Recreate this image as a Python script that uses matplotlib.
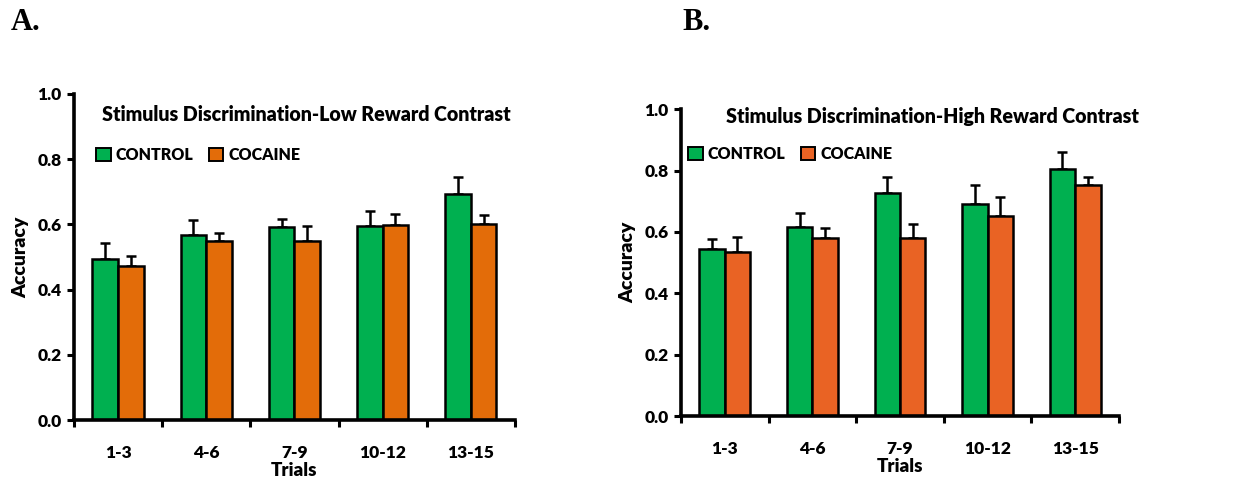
import matplotlib
matplotlib.use('Agg')
import matplotlib.pyplot as plt
import numpy as np

# Data
trials = ['1-3', '4-6', '7-9', '10-12', '13-15']

low_control = [0.495, 0.566, 0.592, 0.595, 0.694]
low_control_err = [0.048, 0.046, 0.025, 0.047, 0.051]
low_cocaine = [0.471, 0.550, 0.550, 0.599, 0.602]
low_cocaine_err = [0.031, 0.024, 0.045, 0.034, 0.027]

high_control = [0.546, 0.617, 0.726, 0.691, 0.805]
high_control_err = [0.032, 0.044, 0.054, 0.062, 0.055]
high_cocaine = [0.536, 0.580, 0.580, 0.652, 0.752]
high_cocaine_err = [0.047, 0.034, 0.046, 0.061, 0.027]

GREEN = '#00B050'
ORANGE_A = '#E36C09'
ORANGE_B = '#E96324'

plt.rcParams['font.family'] = ['Lato', 'DejaVu Sans']
plt.rcParams['font.weight'] = 'heavy'
plt.rcParams['axes.labelweight'] = 'heavy'

fig = plt.figure(figsize=(12.49, 4.83), dpi=100)


def draw_panel(rect, control, control_err, cocaine, cocaine_err, orange, title, title_xy, legend_xy):
    ax = fig.add_axes(rect)
    x = np.arange(len(trials))
    w = 0.29
    ax.bar(x - w / 2, control, w, color=GREEN, edgecolor='black', linewidth=1.8, zorder=2)
    ax.bar(x + w / 2, cocaine, w, color=orange, edgecolor='black', linewidth=1.8, zorder=2)
    ax.errorbar(x - w / 2, control, yerr=[np.zeros(len(x)), control_err], fmt='none',
                ecolor='black', elinewidth=1.8, capsize=3.5, capthick=1.8, zorder=1)
    ax.errorbar(x + w / 2, cocaine, yerr=[np.zeros(len(x)), cocaine_err], fmt='none',
                ecolor='black', elinewidth=1.8, capsize=3.5, capthick=1.8, zorder=1)

    ax.set_xlim(-0.5, len(trials) - 0.5)
    ax.set_ylim(0, 1.0)
    ax.set_yticks(np.arange(0, 1.01, 0.2))
    ax.set_yticklabels([f'{v:.1f}' for v in np.arange(0, 1.01, 0.2)], fontsize=12.5)
    ax.set_xticks(x)
    ax.set_xticklabels(trials, fontsize=12.5)
    ax.set_xticks(np.arange(-0.5, len(trials), 1.0), minor=True)
    ax.tick_params(axis='x', which='major', length=0, pad=18)
    ax.tick_params(axis='x', which='minor', length=5, width=2.2, direction='out')
    ax.tick_params(axis='y', length=5, width=2.2, direction='out', pad=4)

    for s in ['top', 'right']:
        ax.spines[s].set_visible(False)
    for s in ['left', 'bottom']:
        ax.spines[s].set_linewidth(2.6)

    ax.set_ylabel('Accuracy', fontsize=14, labelpad=6)
    ax.set_xlabel('Trials', fontsize=13.5, labelpad=1)

    fig.text(title_xy[0], title_xy[1], title, fontsize=14.1, fontweight='heavy',
             ha='left', va='center')

    h1 = plt.Rectangle((0, 0), 1, 1, facecolor=GREEN, edgecolor='black', linewidth=1.4)
    h2 = plt.Rectangle((0, 0), 1, 1, facecolor=orange, edgecolor='black', linewidth=1.4)
    ax.legend([h1, h2], ['CONTROL', 'COCAINE'], ncol=2, frameon=False,
              loc='center left', bbox_to_anchor=legend_xy, bbox_transform=fig.transFigure,
              prop={'size': 11.5, 'weight': 'heavy'}, handlelength=0.9, handleheight=0.9,
              handletextpad=0.3, columnspacing=1.0, borderpad=0, borderaxespad=0)
    return ax


draw_panel([0.0592, 0.1304, 0.3531, 0.675], low_control, low_control_err,
           low_cocaine, low_cocaine_err, ORANGE_A,
           'Stimulus Discrimination-Low Reward Contrast', (0.082, 0.762), (0.077, 0.679))
draw_panel([0.5452, 0.1387, 0.3507, 0.635], high_control, high_control_err,
           high_cocaine, high_cocaine_err, ORANGE_B,
           'Stimulus Discrimination-High Reward Contrast', (0.581, 0.758), (0.551, 0.681))

fig.text(0.009, 0.953, 'A.', fontsize=22, fontweight='bold', family='Liberation Serif',
         ha='left', va='center')
fig.text(0.546, 0.953, 'B.', fontsize=22, fontweight='bold', family='Liberation Serif',
         ha='left', va='center')

fig.savefig('out.png', dpi=100)
